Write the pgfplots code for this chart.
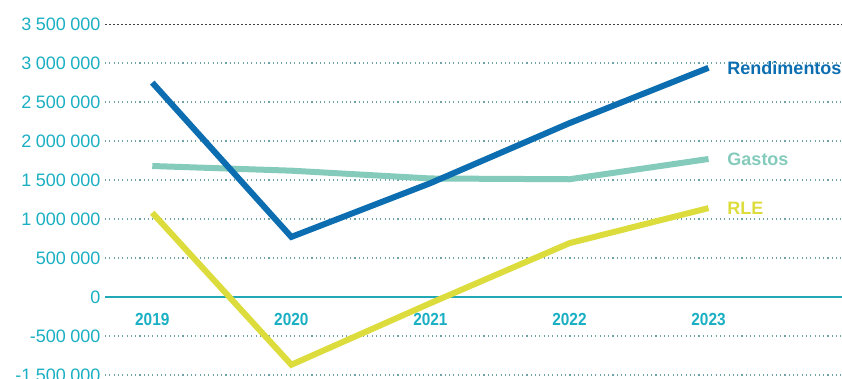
\documentclass[border=0pt]{standalone}
\usepackage{pgfplots}
\pgfplotsset{compat=1.18}
\usepackage{fontspec}
\setmainfont{Liberation Sans}
\newfontfamily\condbold[FakeStretch=0.88]{Liberation Sans Bold}
\definecolor{tickc}{HTML}{1AAFC3}
\definecolor{rend}{HTML}{0C6EB0}
\definecolor{gast}{HTML}{84CBBC}
\definecolor{rle}{HTML}{DCDC3C}
\definecolor{zeroc}{HTML}{22A9B6}
\definecolor{gridc}{HTML}{6FA3A6}
\newcommand{\s}{\hspace{0.25em}}
\begin{document}
\begin{tikzpicture}
\useasboundingbox (-105pt,0pt) rectangle (737pt,378pt);
\begin{axis}[
  at={(0pt,0pt)}, anchor=south west,
  scale only axis, width=737pt, height=378pt,
  xmin=2018.66, xmax=2023.96,
  ymin=-1040000, ymax=3810000,
  axis line style={draw=none},
  xtick=\empty,
  ytick={-1000000,-500000,0,500000,1000000,1500000,2000000,2500000,3000000,3500000},
  yticklabels={-1\s500\s000,-500\s000,0,500\s000,1\s000\s000,1\s500\s000,2\s000\s000,2\s500\s000,3\s000\s000,3\s500\s000},
  yticklabel style={font=\fontsize{18}{20}\selectfont, text=tickc, xshift=-1pt},
  major tick length=0pt,
  ymajorgrids,
  grid style={gridc, line width=1.3pt, dash pattern=on 1.1pt off 3.2pt},
  clip=false,
]
\draw[white, line width=2pt] (axis cs:2018.66,3500000) -- (axis cs:2023.96,3500000);
\draw[black!75, line width=0.7pt, dash pattern=on 2pt off 2pt] (axis cs:2018.66,3500000) -- (axis cs:2023.96,3500000);
\draw[zeroc, line width=2.6pt] (axis cs:2018.66,0) -- (axis cs:2023.96,0);
\addplot[gast, line width=6pt] coordinates {(2019,1680000) (2020,1620000) (2021,1520000) (2022,1510000) (2023,1770000)};
\addplot[rle, line width=6pt] coordinates {(2019,1080000) (2020,-870000) (2021,-80000) (2022,690000) (2023,1140000)};
\addplot[rend, line width=6pt] coordinates {(2019,2750000) (2020,770000) (2021,1460000) (2022,2230000) (2023,2940000)};
\node[text=tickc, font=\condbold\fontsize{17.5}{19}\selectfont] at (axis cs:2019,-295000) {2019};
\node[text=tickc, font=\condbold\fontsize{17.5}{19}\selectfont] at (axis cs:2020,-295000) {2020};
\node[text=tickc, font=\condbold\fontsize{17.5}{19}\selectfont] at (axis cs:2021,-295000) {2021};
\node[text=tickc, font=\condbold\fontsize{17.5}{19}\selectfont] at (axis cs:2022,-295000) {2022};
\node[text=tickc, font=\condbold\fontsize{17.5}{19}\selectfont] at (axis cs:2023,-295000) {2023};
\node[anchor=west, text=rend, font=\bfseries\fontsize{18}{20}\selectfont, inner sep=0pt] at (axis cs:2023.135,2940000) {Rendimentos};
\node[anchor=west, text=gast, font=\bfseries\fontsize{18}{20}\selectfont, inner sep=0pt] at (axis cs:2023.135,1760000) {Gastos};
\node[anchor=west, text=rle, font=\bfseries\fontsize{18}{20}\selectfont, inner sep=0pt] at (axis cs:2023.135,1140000) {RLE};
\end{axis}
\end{tikzpicture}
\end{document}
